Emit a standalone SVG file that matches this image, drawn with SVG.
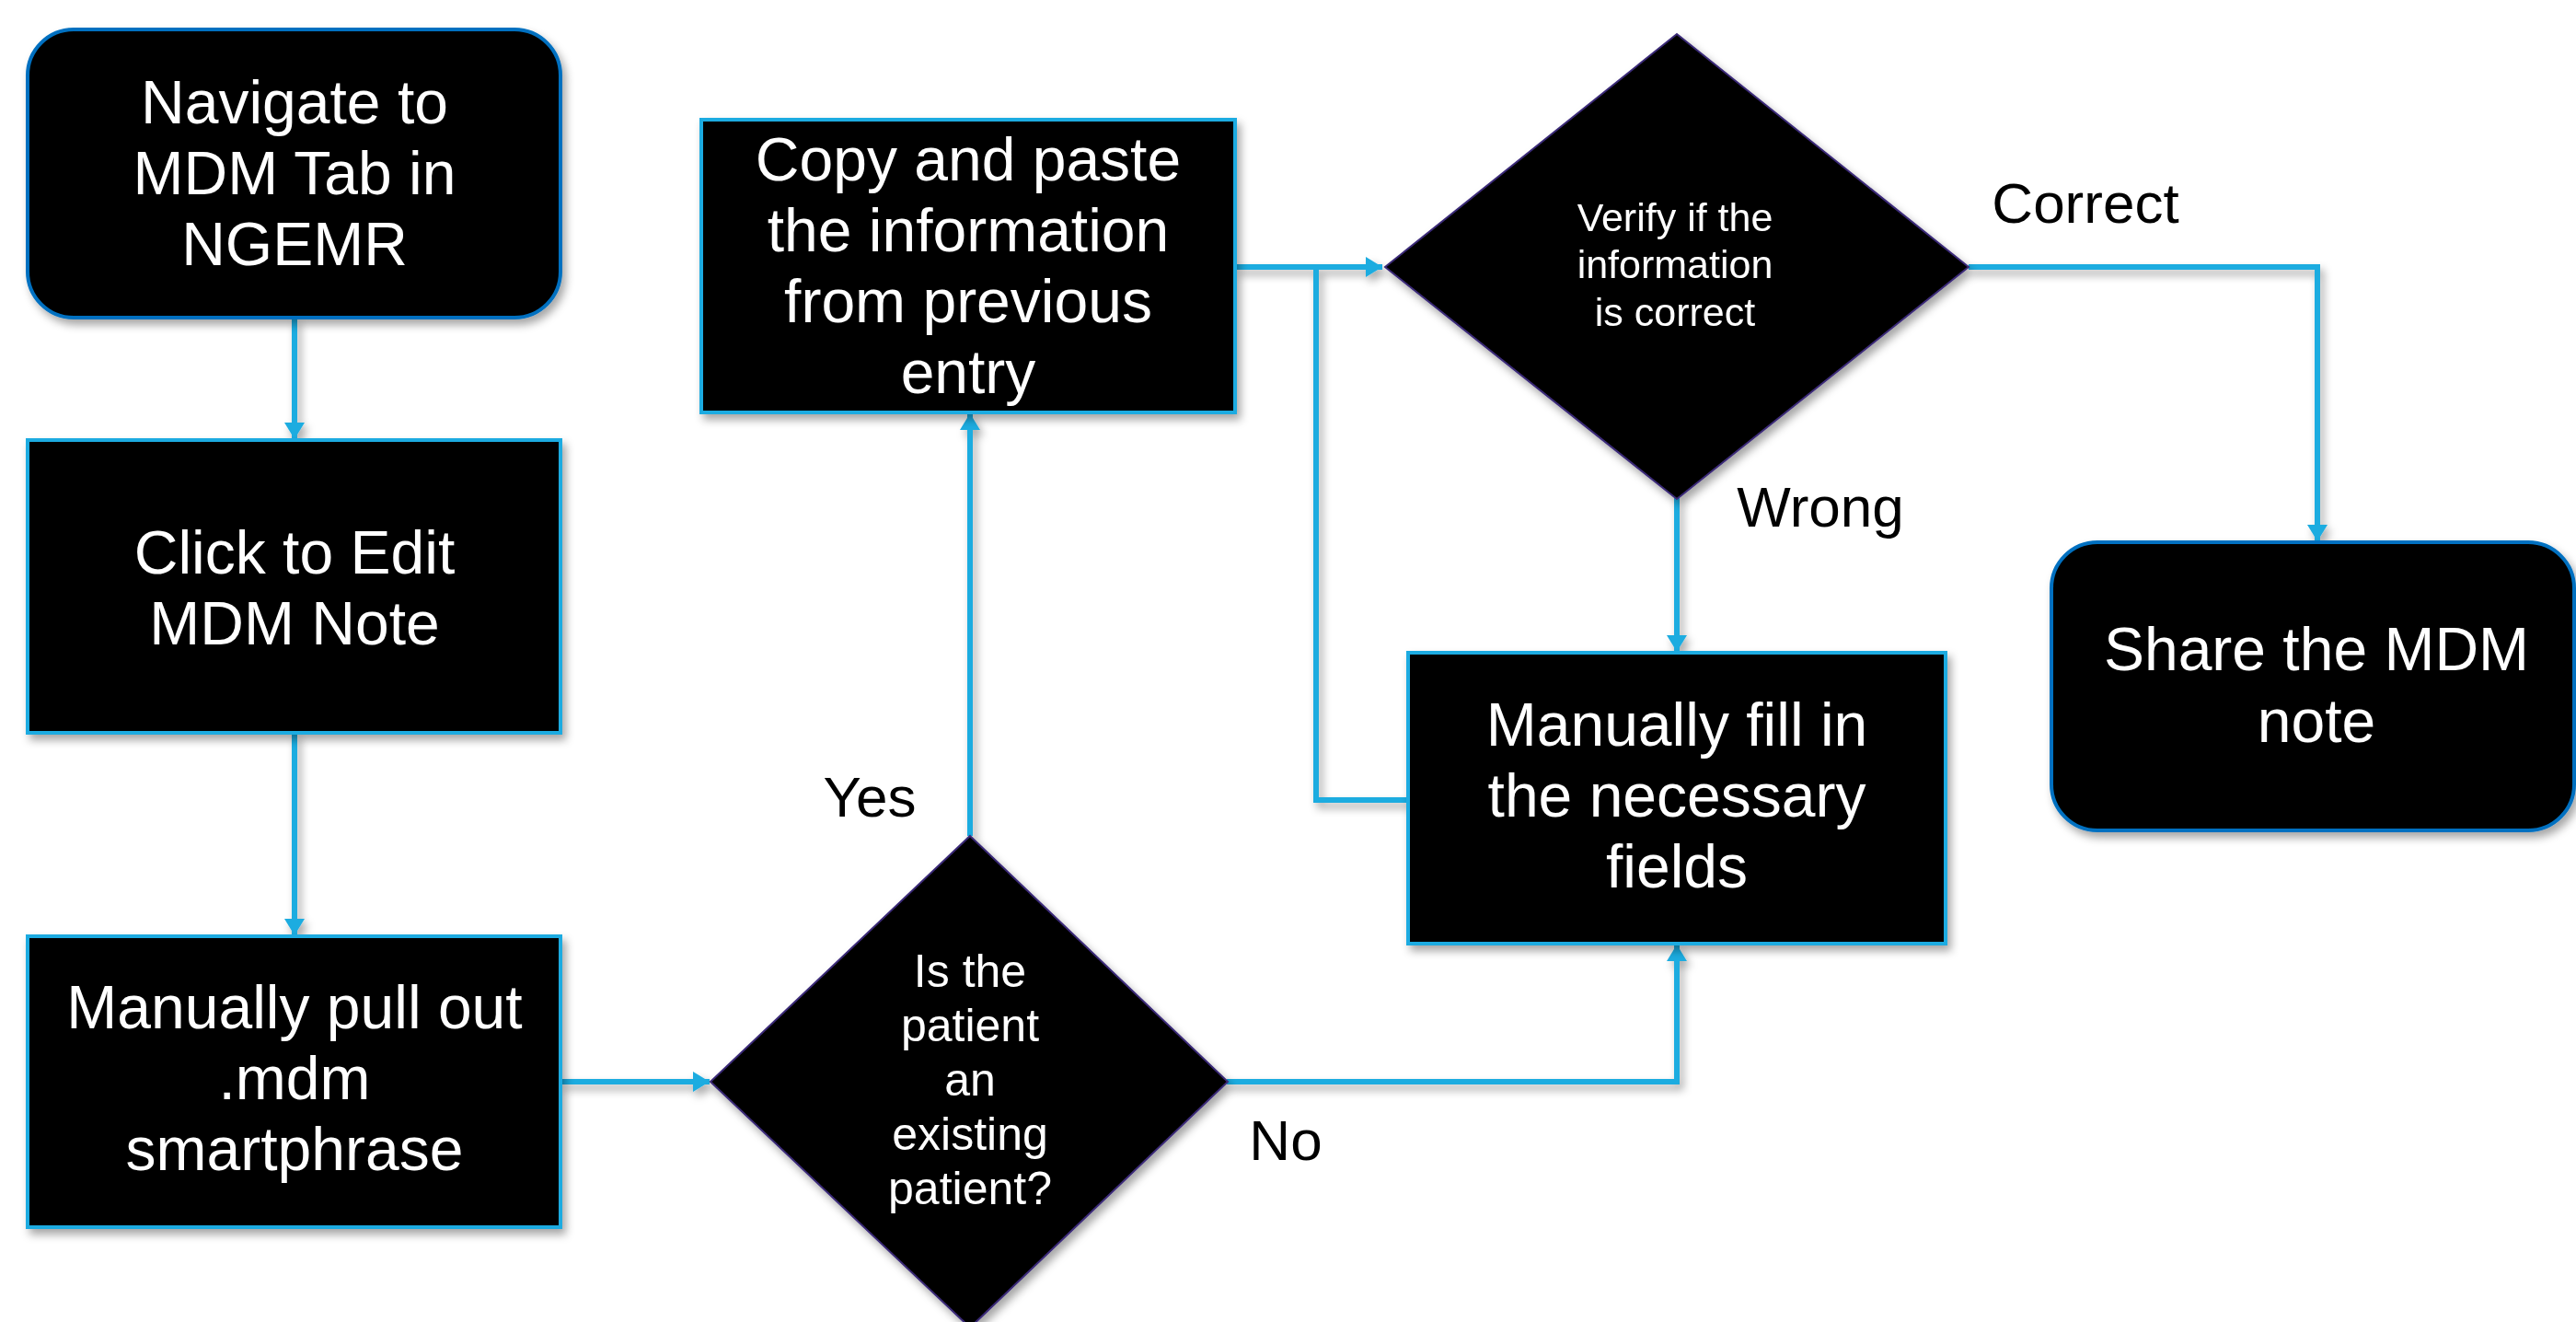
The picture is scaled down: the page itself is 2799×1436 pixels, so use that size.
<svg xmlns="http://www.w3.org/2000/svg" width="2799" height="1436" viewBox="0 0 2799 1436">
<style>
.rbox{fill:#000;stroke:#0070C0;stroke-width:4}
.box{fill:#000;stroke:#1AABE1;stroke-width:4}
.dia{fill:#000;stroke:#3B2A78;stroke-width:2}
.t{font-family:"Liberation Sans",Arial,sans-serif;fill:#fff;text-anchor:middle;font-size:66px}
.td{font-family:"Liberation Sans",Arial,sans-serif;fill:#fff;text-anchor:middle;font-size:50px}
.ts{font-family:"Liberation Sans",Arial,sans-serif;fill:#fff;text-anchor:middle;font-size:43px}
.lbl{font-family:"Liberation Sans",Arial,sans-serif;fill:#000;text-anchor:middle;font-size:62px}
.c{fill:none;stroke:#1FACE0;stroke-width:6}
</style>
<defs>
<filter id="sh" x="-20%" y="-20%" width="140%" height="140%">
<feDropShadow dx="4" dy="6" stdDeviation="5" flood-color="#000" flood-opacity="0.35"/>
</filter>
<marker id="ah" viewBox="0 0 18 22" refX="18" refY="11" markerWidth="18" markerHeight="22" markerUnits="userSpaceOnUse" orient="auto">
<path d="M0,0 L18,11 L0,22 z" fill="#1FACE0"/>
</marker>
</defs>
<rect width="2799" height="1436" fill="#fff"/>
<g id="connectors" filter="url(#sh)">
<path class="c" d="M320,345 L320,477" marker-end="url(#ah)"/>
<path class="c" d="M320,796 L320,1016" marker-end="url(#ah)"/>
<path class="c" d="M609,1175 L771,1175" marker-end="url(#ah)"/>
<path class="c" d="M1054,908 L1054,449" marker-end="url(#ah)"/>
<path class="c" d="M1333,1175 L1822,1175 L1822,1026" marker-end="url(#ah)"/>
<path class="c" d="M1342,290 L1502,290" marker-end="url(#ah)"/>
<path class="c" d="M1530,869 L1430,869 L1430,290"/>
<path class="c" d="M1822,541 L1822,708" marker-end="url(#ah)"/>
<path class="c" d="M2139,290 L2518,290 L2518,588" marker-end="url(#ah)"/>
</g>
<g id="n-navigate" filter="url(#sh)">
<rect class="rbox" x="30" y="32" width="579" height="313" rx="50"/>
<text class="t" x="320" y="134">Navigate to</text>
<text class="t" x="320" y="211">MDM Tab in</text>
<text class="t" x="320" y="288">NGEMR</text>
</g>
<g id="n-edit" filter="url(#sh)">
<rect class="box" x="30" y="478" width="579" height="318"/>
<text class="t" x="320" y="623">Click to Edit</text>
<text class="t" x="320" y="700">MDM Note</text>
</g>
<g id="n-pull" filter="url(#sh)">
<rect class="box" x="30" y="1017" width="579" height="316"/>
<text class="t" x="320" y="1117">Manually pull out</text>
<text class="t" x="320" y="1194">.mdm</text>
<text class="t" x="320" y="1271">smartphrase</text>
</g>
<g id="n-existing" filter="url(#sh)">
<polygon class="dia" points="1054,908 1334,1175 1054,1442 772,1175"/>
<text class="td" x="1054" y="1072">Is the</text>
<text class="td" x="1054" y="1131">patient</text>
<text class="td" x="1054" y="1190">an</text>
<text class="td" x="1054" y="1249">existing</text>
<text class="td" x="1054" y="1308">patient?</text>
</g>
<g id="n-copy" filter="url(#sh)">
<rect class="box" x="762" y="130" width="580" height="318"/>
<text class="t" x="1052" y="196">Copy and paste</text>
<text class="t" x="1052" y="273">the information</text>
<text class="t" x="1052" y="350">from previous</text>
<text class="t" x="1052" y="427">entry</text>
</g>
<g id="n-verify" filter="url(#sh)">
<polygon class="dia" points="1822,37 2139,290 1822,542 1505,290"/>
<text class="ts" x="1820" y="251">Verify if the</text>
<text class="ts" x="1820" y="302">information</text>
<text class="ts" x="1820" y="354">is correct</text>
</g>
<g id="n-fill" filter="url(#sh)">
<rect class="box" x="1530" y="709" width="584" height="316"/>
<text class="t" x="1822" y="810">Manually fill in</text>
<text class="t" x="1822" y="887">the necessary</text>
<text class="t" x="1822" y="964">fields</text>
</g>
<g id="n-share" filter="url(#sh)">
<rect class="rbox" x="2229" y="589" width="568" height="313" rx="50"/>
<text class="t" x="2517" y="728">Share the MDM</text>
<text class="t" x="2517" y="806">note</text>
</g>
<g id="labels">
<text class="lbl" x="945" y="887">Yes</text>
<text class="lbl" x="1397" y="1260">No</text>
<text class="lbl" x="1978" y="572">Wrong</text>
<text class="lbl" x="2266" y="242">Correct</text>
</g>
</svg>
